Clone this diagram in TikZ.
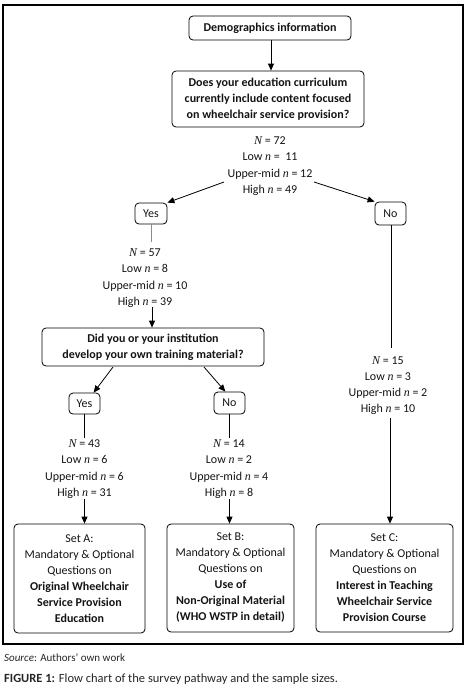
\documentclass[tikz,border=0pt]{standalone}
\usepackage{fontspec}
\setmainfont{Carlito}
\newfontfamily\tmsfont{Liberation Serif}
\usetikzlibrary{arrows.meta}
\newcommand{\vN}{{\tmsfont\itshape N}}
\newcommand{\vn}{{\tmsfont\itshape n}}
\begin{document}
\begin{tikzpicture}[x=1pt,y=-1pt,
  every node/.style={font=\fontsize{12}{16}\selectfont, text=black!92},
  rbox/.style={draw, rounded corners=4pt, line width=0.8pt, align=center, inner sep=0pt},
  numtxt/.style={align=center, inner sep=0pt, font=\fontsize{12}{16.2}\selectfont},
  arr/.style={-{Triangle[length=7pt,width=6pt]}, line width=0.8pt},
  ln/.style={line width=0.8pt}]
\useasboundingbox (0,0) rectangle (469,694);
\draw[line width=1.1pt] (3,5) rectangle (463,644);

\node[rbox, minimum width=162pt, minimum height=24pt, font=\fontsize{12}{16}\selectfont\bfseries] (demo) at (270,28) {Demographics information};
\node[rbox, minimum width=192pt, minimum height=56pt, font=\fontsize{12}{16}\selectfont\bfseries] (q1) at (268,99) {Does your education curriculum\\currently include content focused\\on wheelchair service provision?};
\node[numtxt] (t1) at (270,166) {\vN{} = 72\\Low \vn{} =\ \ 11\\Upper-mid \vn{} = 12\\High \vn{} = 49};

\node[rbox, minimum width=32pt, minimum height=21pt] (yes1) at (151,213.5) {Yes};
\node[rbox, minimum width=31pt, minimum height=23pt] (no1) at (390.5,213.5) {No};

\node[numtxt] (t2) at (145,278) {\vN{} = 57\\Low \vn{} = 8\\Upper-mid \vn{} = 10\\High \vn{} = 39};
\node[rbox, minimum width=222pt, minimum height=38pt, font=\fontsize{12}{16}\selectfont\bfseries] (q2) at (153,347) {Did you or your institution\\develop your own training material?};

\node[rbox, minimum width=31pt, minimum height=21pt] (yes2) at (84.5,403.5) {Yes};
\node[rbox, minimum width=31pt, minimum height=22pt] (no2) at (229.5,403) {No};

\node[numtxt] (t3) at (84.5,469) {\vN{} = 43\\Low \vn{} = 6\\Upper-mid \vn{} = 6\\High \vn{} = 31};
\node[numtxt] (t4) at (229,469) {\vN{} = 14\\Low \vn{} = 2\\Upper-mid \vn{} = 4\\High \vn{} = 8};
\node[numtxt] (t5) at (388,385.5) {\vN{} = 15\\Low \vn{} = 3\\Upper-mid \vn{} = 2\\High \vn{} = 10};

\node[rbox, minimum width=131pt, minimum height=109pt] (setA) at (79.5,578.5) {Set A:\\Mandatory \& Optional\\Questions on\\\textbf{Original Wheelchair}\\\textbf{Service Provision}\\\textbf{Education}};
\node[rbox, minimum width=127pt, minimum height=108pt] (setB) at (230.5,578) {Set B:\\Mandatory \& Optional\\Questions on\\\textbf{Use of}\\\textbf{Non-Original Material}\\\textbf{(WHO WSTP in detail)}};
\node[rbox, minimum width=137pt, minimum height=108pt] (setC) at (384.5,578) {Set C:\\Mandatory \& Optional\\Questions on\\\textbf{Interest in Teaching}\\\textbf{Wheelchair Service}\\\textbf{Provision Course}};

% connectors
\draw[arr] (demo.south -| 271,0) -- (271,0 |- q1.north);
\coordinate (c1l) at (224,182);
\coordinate (c1r) at (314,182);
\draw[arr] (c1l) -- (yes1.north east);
\draw[arr] (c1r) -- (no1.north west);
\coordinate (c2) at (151.5,242);
\draw[ln, black!45] (yes1.south -| c2) -- (c2);
\coordinate (c3) at (152,307);
\draw[arr] (c3) -- (c3 |- q2.north);
\coordinate (c4l) at (113,367);
\coordinate (c4r) at (204,367);
\draw[arr] (c4l) -- (yes2.50);
\draw[arr] (c4r) -- (no2.110);
\coordinate (c5l) at (84.5,438);
\coordinate (c5r) at (229.5,438);
\draw[ln] (yes2.south -| c5l) -- (c5l);
\draw[ln] (no2.south -| c5r) -- (c5r);
\coordinate (c6l) at (84.5,499);
\coordinate (c6r) at (229.5,499);
\draw[arr] (c6l) -- (c6l |- setA.north);
\draw[arr] (c6r) -- (c6r |- setB.north);
\coordinate (c7) at (391,348);
\draw[ln] (no1.south -| c7) -- (c7);
\coordinate (c8) at (390,418);
\draw[arr] (c8) -- (c8 |- setC.north);

% caption
\node[anchor=base west, inner sep=0pt, font=\fontsize{11}{13}\selectfont, text=black!85] (src) at (4,661) {\textit{Source}: Authors' own work};
\node[anchor=base west, inner sep=0pt, font=\fontsize{12.5}{15}\selectfont, text=black!85] (cap) at (4,682) {\textbf{FIGURE 1:} Flow chart of the survey pathway and the sample sizes.};
\end{tikzpicture}
\end{document}
